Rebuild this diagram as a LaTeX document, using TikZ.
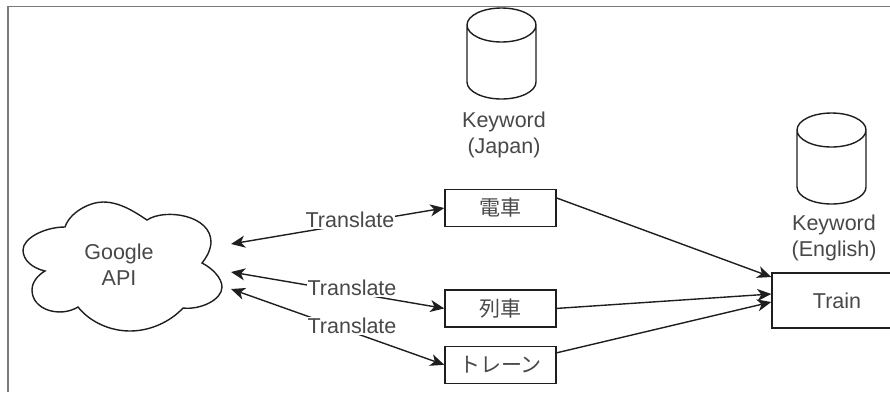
\documentclass[tikz,border=0pt]{standalone}
\usepackage{fontspec}
\setmainfont{Liberation Sans}
\newfontfamily\jpfont{Noto Sans CJK JP}
\usetikzlibrary{arrows.meta, positioning}
\definecolor{framegray}{HTML}{7A7A7A}
\definecolor{inkgray}{HTML}{484848}
\definecolor{linegray}{HTML}{1E1E1E}
\begin{document}
\begin{tikzpicture}[x=1pt, y=-1pt,
                boxnode/.style={draw=linegray, line width=1.4pt, rectangle, minimum width=111pt, minimum height=37pt, inner sep=0pt, text=inkgray, font=\fontsize{21}{25}\selectfont\jpfont},
                dbline/.style={draw=linegray, line width=1.4pt, x radius=34.5pt, y radius=17pt},
                labelnode/.style={align=center, inner sep=0pt, text=inkgray, font=\fontsize{21.5}{26}\selectfont},
                wordnode/.style={fill=white, inner sep=1pt, text=inkgray, font=\fontsize{21.5}{25}\selectfont},
                transarrow/.style={{Stealth[length=14pt,width=12pt,inset=4pt]}-{Stealth[length=14pt,width=12pt,inset=4pt]}, line width=1.4pt, draw=linegray},
                mergearrow/.style={-{Stealth[length=14pt,width=12pt,inset=4pt]}, line width=1.4pt, draw=linegray}]
                \useasboundingbox (0,0) rectangle (890,392);

                % Frame
                \draw[framegray, line width=1.4pt] (890,6.5) -- (8,6.5) -- (8,392);

                % Google cloud
                \draw[linegray, line width=1.4pt] (65,227) .. controls (70,212) and (90,202) .. (103,202)
                    .. controls (120,202) and (135,212) .. (147,220)
                    .. controls (165,208) and (212,215) .. (211,243)
                    .. controls (210,252) and (206,258) .. (202,263)
                    .. controls (212,268) and (222,278) .. (222,287)
                    .. controls (222,300) and (200,310) .. (183,308)
                    .. controls (170,322) and (150,331) .. (130,331)
                    .. controls (110,331) and (90,322) .. (78,307)
                    .. controls (60,318) and (32,310) .. (32,290)
                    .. controls (32,282) and (38,275) .. (45,271)
                    .. controls (32,268) and (23,260) .. (23,250)
                    .. controls (23,238) and (45,227) .. (65,227) -- cycle;
                \node[labelnode] (api) at (119,265) {Google\\API};
                \coordinate (api1) at (231,244);
                \coordinate (api2) at (231,272);
                \coordinate (api3) at (231,289);

                % Japanese keywords
                \node[boxnode] (densha) at (500.5,208) {電車};
                \node[boxnode, below=62pt of densha] (ressha) {列車};
                \node[boxnode, below=18pt of ressha] (train_jp) {トレーン};

                % Databases
                \draw[dbline] (467,25) -- (467,82) arc[start angle=180, end angle=360] -- (536,25)
                    arc[start angle=0, end angle=180] arc[start angle=180, end angle=360];
                \node[labelnode] (keyjp) at (504,135) {Keyword\\(Japan)};
                \draw[dbline] (797,130) -- (797,187) arc[start angle=180, end angle=360] -- (866,130)
                    arc[start angle=0, end angle=180] arc[start angle=180, end angle=360];
                \node[labelnode] (keyen) at (834,238) {Keyword\\(English)};

                % English keyword
                \node[boxnode, font=\fontsize{21.5}{25}\selectfont, minimum width=130pt, minimum height=55pt] (train) at (837,300.5) {Train};

                % Edges
                \draw[transarrow] (api1) -- (densha.west);
                \draw[transarrow] (api2) -- (ressha.west);
                \draw[transarrow] (api3) -- (train_jp.west);
                \draw[mergearrow] ([yshift=10pt]densha.east) -- ([yshift=23.5pt]train.west);
                \draw[mergearrow] (ressha.east) -- ([yshift=6.5pt]train.west);
                \draw[mergearrow] ([yshift=12pt]train_jp.east) -- ([yshift=-1.5pt]train.west);

                % Labels on top of the edges
                \node[wordnode] (word1) at (350,220) {Translate};
                \node[wordnode] (word2) at (352,288) {Translate};
                \node[wordnode] (word3) at (352,326) {Translate};
            \end{tikzpicture}
\end{document}
